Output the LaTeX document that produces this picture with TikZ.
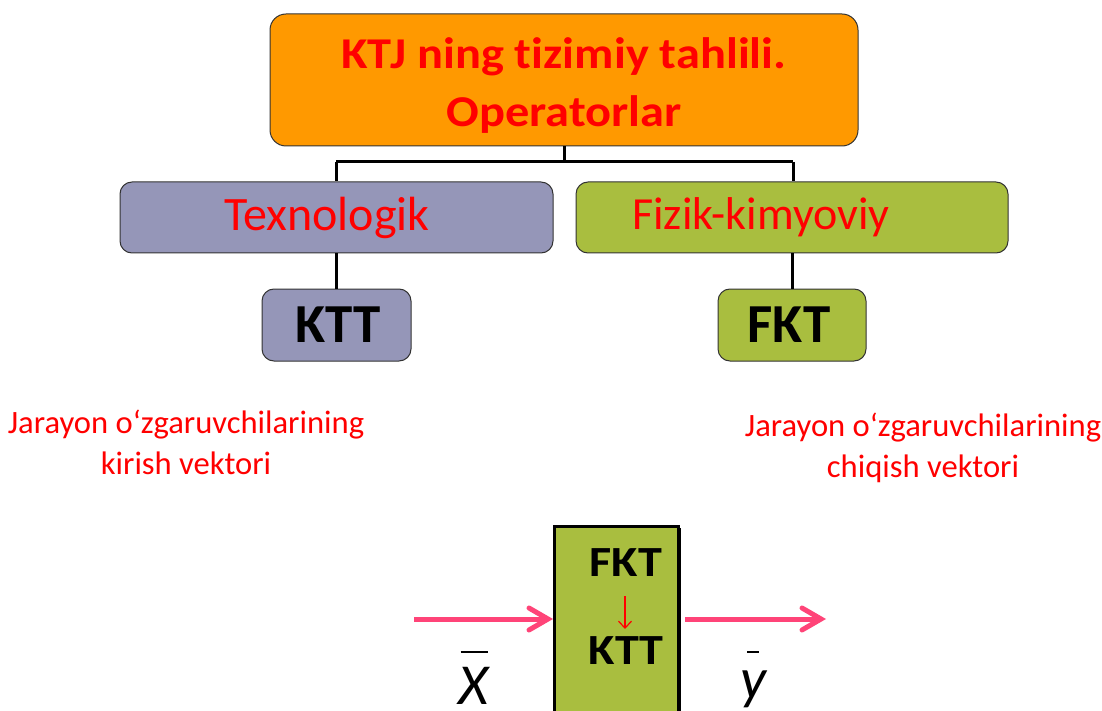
\documentclass[tikz,border=0pt]{standalone}
\usepackage{fontspec}
\setmainfont[Ligatures={NoCommon,NoContextual}]{Carlito}
\usetikzlibrary{arrows.meta}
\definecolor{orangebox}{HTML}{FF9900}
\definecolor{lavbox}{HTML}{9596B8}
\definecolor{greenbox}{HTML}{A9BE3F}
\definecolor{pinkarr}{HTML}{FF4478}
\definecolor{redtxt}{HTML}{FF0000}
\tikzset{
  x=1pt,y=-1pt,
  rbox/.style={draw=black!80,line width=1pt,rounded corners=12pt,inner sep=0pt},
  conn/.style={draw=black,line width=3pt},
  redlab/.style={text=redtxt,font=\fontsize{32.6}{41}\selectfont,align=center,inner sep=0pt},
  pink/.style={draw=pinkarr,line width=5pt,-{Straight Barb[length=19pt,width=22pt,line width=5pt,line cap=round]}},
  vlab/.style={font=\itshape,inner sep=0pt,align=center},
}
\begin{document}
\begin{tikzpicture}
\useasboundingbox (0,0) rectangle (1102,711);
% top
\node[rbox,fill=orangebox,minimum width=588pt,minimum height=132pt,rounded corners=16pt] (top) at (564,80) {};
\node[text=redtxt,font=\bfseries\fontsize{44}{58}\selectfont,align=center,inner sep=0pt] (toptxt) at (564,86)
  {\scalebox{1.1}[1]{KTJ ning t\kern0pt izimiy tahlili.}\\\scalebox{1.1}[1]{Operatorlar}};
\node[rbox,fill=lavbox,minimum width=433pt,minimum height=71pt,
  text=redtxt,font=\fontsize{48}{50}\selectfont] (tex) at (336.5,217.5) {\hspace*{-19pt}\raisebox{-6pt}{Texnologik}};
\node[rbox,fill=greenbox,minimum width=432pt,minimum height=71pt,
  text=redtxt,font=\fontsize{46}{50}\selectfont] (fiz) at (792,217.5) {\hspace*{-62pt}\raisebox{-3pt}{Fizik-kimyoviy}};
\node[rbox,fill=lavbox,minimum width=149pt,minimum height=72pt,
  font=\bfseries\fontsize{55}{55}\selectfont] (ktt) at (336.5,325) {\hspace*{4pt}KTT};
\node[rbox,fill=greenbox,minimum width=148pt,minimum height=72pt,
  font=\bfseries\fontsize{55}{55}\selectfont] (fkt) at (792,325) {\hspace*{-6pt}\raisebox{-7pt}{FKT}};
% connectors
\coordinate (j) at (564,162);
\draw[conn] (top.south) -- (j);
\draw[conn] (336,162) -- (793,162);
\draw[conn] (336,162) -- (tex.north -| 336,0);
\draw[conn] (793,162) -- (fiz.north -| 793,0);
\draw[conn] (tex.south -| 336,0) -- (ktt.north -| 336,0);
\draw[conn] (fiz.south -| 792,0) -- (fkt.north -| 792,0);
% captions
\node[redlab] (cin) at (186,442) {Jarayon o‘zgaruvchilarining\\kirish vektori};
\node[redlab] (cout) at (923,448) {Jarayon o‘zgaruvchilarining\\chiqish vektori};
% bottom block
\fill[black] (557,528) rectangle (681,714);
\node[draw=black,line width=3pt,fill=greenbox,minimum width=124pt,minimum height=190pt,inner sep=0pt,anchor=north west] (blk) at (553,525) {};
\node[font=\bfseries\fontsize{43}{43}\selectfont,inner sep=0pt] (bf) at (626,563) {\scalebox{1.12}[1]{FKT}};
\node[font=\bfseries\fontsize{43}{43}\selectfont,inner sep=0pt] (bk) at (626,651) {\scalebox{1.12}[1]{KTT}};
\coordinate (a1) at (625,596);
\coordinate (a2) at (625,629);
\draw[redtxt,line width=1.2pt,-{Straight Barb[length=7pt,width=13pt]}] (a1) -- (a2);
% arrows
\coordinate (xin) at (414,619);
\coordinate (yout) at (826,619);
\draw[pink] (xin) -- (blk.west |- xin);
\draw[pink] (685,619) -- (yout);
\node[vlab,font=\itshape\fontsize{58}{52}\selectfont,anchor=south] (xl) at (474,705) {\rule{27pt}{2pt}\\X};
\node[vlab,font=\itshape\fontsize{58}{45}\selectfont,anchor=base] (yl) at (753,698) {\rule{12pt}{2pt}\\y};
\end{tikzpicture}
\end{document}
